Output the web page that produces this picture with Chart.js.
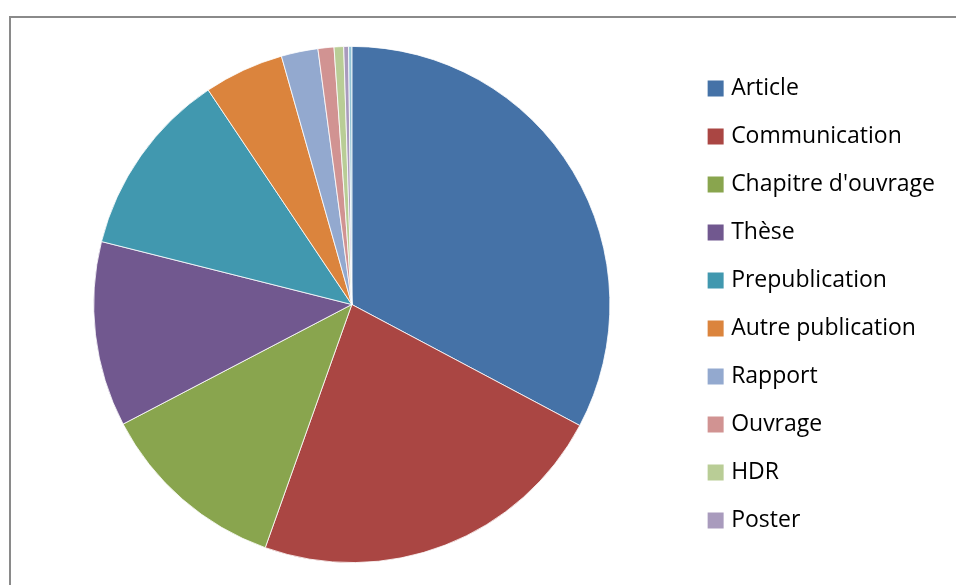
<!DOCTYPE html>
<html>
<head>
<meta charset="utf-8">
<script src="https://cdn.jsdelivr.net/npm/chart.js@4/dist/chart.umd.min.js"></script>
<style>
  html, body { margin: 0; padding: 0; background: #fff; }
  #wrap { position: relative; width: 956px; height: 585px; overflow: hidden; }
  #frame { position: absolute; left: 9px; top: 16px; width: 1200px; height: 900px;
           border-top: 2px solid #8a8a8a; border-left: 2px solid #8a8a8a; }
  #pie-box { position: absolute; left: -11px; top: 0; width: 956px; height: 585px; }
</style>
</head>
<body>
<div id="wrap">
  <div id="frame"></div>
  <div id="pie-box"><canvas id="pie-chart"></canvas></div>
</div>
<script>
// publication types, clockwise from 12 o'clock
const categories = ['Article','Communication',"Chapitre d'ouvrage",'Thèse','Prepublication',
                    'Autre publication','Rapport','Ouvrage','HDR','Poster','Brevet']
const counts = [328,227,119,116,117,50,23,10,6,3,2]
// last slice is not shown in the legend (it was cut off in the original)
const legend_count = 10

const colors = ['#4572A7','#AA4643','#89A54E','#71588F','#4198AF',
                '#DB843D','#93A9CF','#D19392','#B9CD96','#A99BBD','#92C3D5']

window.onload=()=>{
    draw_pie()
}

// legend squares: small box + thick stroke of the same colour, so the text sits closer
function make_legend_items(chart){
    const items = Chart.overrides.pie.plugins.legend.labels.generateLabels(chart)
    return items
        .filter(it=>it.index < legend_count)
        .map(it=>{
            it.strokeStyle = it.fillStyle
            it.lineWidth = 8
            return it
        })
}

function draw_pie(){
    const pie_data = {
        labels:categories,
        datasets:[
            {
                data:counts,
                backgroundColor:colors,
                borderColor:'#ffffff',
                borderWidth:0.8
            }
        ]
    };

    const pie_config = {
        type:'pie',
        data:pie_data,
        options:{
            responsive:true,
            maintainAspectRatio:false,
            animation:false,
            layout:{
                padding:{left:28,top:46,bottom:22,right:0}
            },
            plugins:{
                tooltip:{enabled:false},
                legend:{
                    position:'right',
                    align:'center',
                    labels:{
                        boxWidth:8,
                        boxHeight:8,
                        padding:25,
                        color:'#000000',
                        font:{family:'"Open Sans"',size:23},
                        generateLabels:make_legend_items
                    }
                }
            }
        }
    }

    const pieChart = new Chart(
        document.getElementById('pie-chart'),
        pie_config
    )
}
</script>
</body>
</html>
